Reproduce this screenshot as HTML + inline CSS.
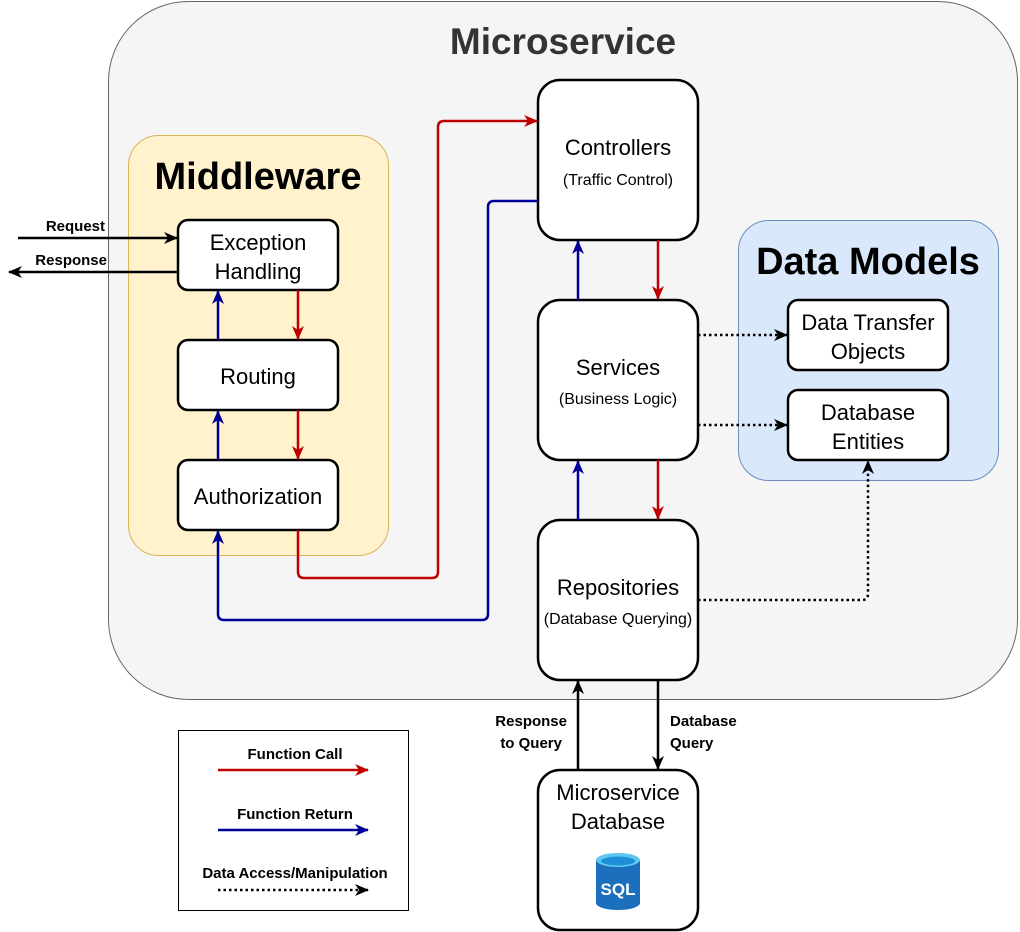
<!DOCTYPE html>
<html><head><meta charset="utf-8"><style>
html,body{margin:0;padding:0;background:#fff;}
svg{display:block;font-family:"Liberation Sans",Arial,sans-serif;}
</style></head><body>
<svg width="1020" height="932" viewBox="0 0 1020 932" xmlns="http://www.w3.org/2000/svg">
<defs>
<marker id="ar" markerWidth="14" markerHeight="14" refX="13" refY="7" orient="auto" markerUnits="userSpaceOnUse"><path d="M0,1 L14,7 L0,13 L4,7 Z" fill="#c00000"/></marker>
<marker id="ab" markerWidth="14" markerHeight="14" refX="13" refY="7" orient="auto" markerUnits="userSpaceOnUse"><path d="M0,1 L14,7 L0,13 L4,7 Z" fill="#000099"/></marker>
<marker id="ak" markerWidth="14" markerHeight="14" refX="13" refY="7" orient="auto" markerUnits="userSpaceOnUse"><path d="M0,1 L14,7 L0,13 L4,7 Z" fill="#000"/></marker>
</defs>
<rect x="108.5" y="1.5" width="909" height="698" rx="80" fill="#f5f5f5" stroke="#666" stroke-width="1"/>
<text x="563" y="54" text-anchor="middle" font-size="37" font-weight="bold" fill="#333">Microservice</text>

<rect x="128.5" y="135.5" width="260" height="420" rx="30" fill="#fff2cc" stroke="#d6b656"/>
<text x="258" y="189" text-anchor="middle" font-size="38" font-weight="bold">Middleware</text>

<rect x="738.5" y="220.5" width="260" height="260" rx="30" fill="#dae8fc" stroke="#6c8ebf"/>
<text x="868" y="274" text-anchor="middle" font-size="38" font-weight="bold">Data Models</text>

<g fill="#fff" stroke="#000" stroke-width="2.5">
<rect x="178" y="220" width="160" height="70" rx="10"/>
<rect x="178" y="340" width="160" height="70" rx="10"/>
<rect x="178" y="460" width="160" height="70" rx="10"/>
<rect x="538" y="80" width="160" height="160" rx="22"/>
<rect x="538" y="300" width="160" height="160" rx="22"/>
<rect x="538" y="520" width="160" height="160" rx="22"/>
<rect x="538" y="770" width="160" height="160" rx="22"/>
<rect x="788" y="300" width="160" height="70" rx="10"/>
<rect x="788" y="390" width="160" height="70" rx="10"/>
</g>
<rect x="178.5" y="730.5" width="230" height="180" fill="#fff" stroke="#000" stroke-width="1"/>

<g font-size="22" text-anchor="middle" fill="#000">
<text x="258" y="250">Exception</text><text x="258" y="279">Handling</text>
<text x="258" y="384">Routing</text>
<text x="258" y="504">Authorization</text>
<text x="618" y="155">Controllers</text>
<text x="618" y="375">Services</text>
<text x="618" y="595">Repositories</text>
<text x="618" y="800">Microservice</text><text x="618" y="829">Database</text>
<text x="868" y="330">Data Transfer</text><text x="868" y="359">Objects</text>
<text x="868" y="420">Database</text><text x="868" y="449">Entities</text>
</g>
<g font-size="16" text-anchor="middle">
<text x="618" y="185">(Traffic Control)</text>
<text x="618" y="404">(Business Logic)</text>
<text x="618" y="624">(Database Querying)</text>
</g>

<g>
<path d="M596,860 L596,903 A22,7 0 0 0 640,903 L640,860 Z" fill="#1c6fbd"/>
<ellipse cx="618" cy="860" rx="22" ry="7" fill="#5ec8f0"/>
<ellipse cx="618" cy="861" rx="17" ry="4.5" fill="#1c8fd6"/>
<text x="618" y="895" text-anchor="middle" font-size="17" font-weight="bold" fill="#fff">SQL</text>
</g>

<g fill="none" stroke-width="2.5">
<g stroke="#c00000" marker-end="url(#ar)">
<path d="M298,290 V339"/>
<path d="M298,410 V459"/>
<path d="M298,530 V572 Q298,578 304,578 H432 Q438,578 438,572 V127 Q438,121 444,121 H537"/>
<path d="M658,240 V299"/>
<path d="M658,460 V519"/>
<path d="M218,770 H368"/>
</g>
<g stroke="#000099" marker-end="url(#ab)">
<path d="M218,340 V291"/>
<path d="M218,460 V411"/>
<path d="M538,201 H494 Q488,201 488,207 V614 Q488,620 482,620 H224 Q218,620 218,614 V531"/>
<path d="M578,300 V241"/>
<path d="M578,520 V461"/>
<path d="M218,830 H368"/>
</g>
<g stroke="#000" stroke-dasharray="2.5,3" marker-end="url(#ak)">
<path d="M698,335 H787"/>
<path d="M698,425 H787"/>
<path d="M698,600 H862 Q868,600 868,594 V461"/>
<path d="M218,890 H368"/>
</g>
<g stroke="#000" marker-end="url(#ak)">
<path d="M18,238 H177"/>
<path d="M178,272 H9"/>
<path d="M578,770 V681"/>
<path d="M658,680 V769"/>
</g>
</g>

<g font-size="15" font-weight="bold">
<text x="105" y="231" text-anchor="end">Request</text>
<text x="107" y="265" text-anchor="end">Response</text>
<text x="567" y="726" text-anchor="end">Response</text>
<text x="562" y="748" text-anchor="end">to Query</text>
<text x="670" y="726">Database</text>
<text x="670" y="748">Query</text>
<text x="295" y="759" text-anchor="middle">Function Call</text>
<text x="295" y="819" text-anchor="middle">Function Return</text>
<text x="295" y="878" text-anchor="middle">Data Access/Manipulation</text>
</g>
</svg>
</body></html>
